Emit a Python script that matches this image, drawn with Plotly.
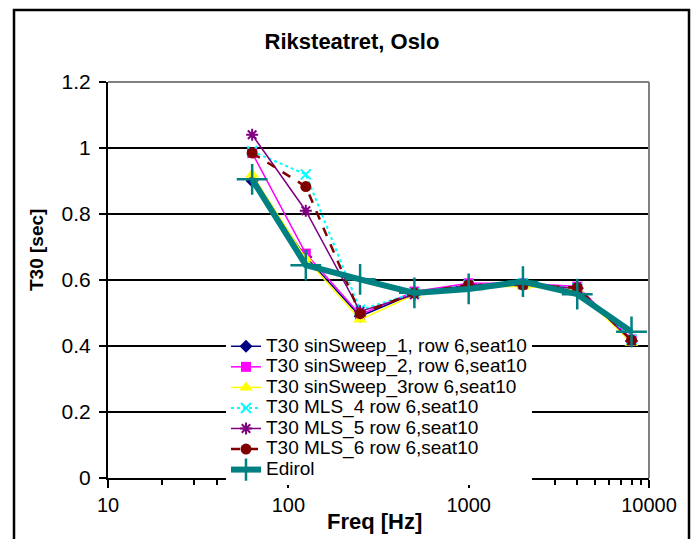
import plotly.graph_objects as go

freqs = [63, 125, 250, 500, 1000, 2000, 4000, 8000]
sweep1 = [0.90, 0.67, 0.49, 0.56, 0.585, 0.585, 0.575, 0.415]
sweep2 = [0.985, 0.68, 0.495, 0.565, 0.59, 0.59, 0.58, 0.42]
sweep3 = [0.92, 0.665, 0.48, 0.555, 0.58, 0.58, 0.57, 0.41]
mls4 = [0.99, 0.92, 0.51, 0.56, 0.585, 0.59, 0.575, 0.42]
mls5 = [1.04, 0.81, 0.505, 0.555, 0.585, 0.585, 0.575, 0.415]
mls6 = [0.985, 0.883, 0.498, 0.561, 0.585, 0.585, 0.577, 0.418]
edirol = [0.905, 0.645, 0.602, 0.561, 0.573, 0.595, 0.557, 0.443]

names = [
    "T30 sinSweep_1, row 6,seat10",
    "T30 sinSweep_2, row 6,seat10",
    "T30 sinSweep_3row 6,seat10",
    "T30 MLS_4 row 6,seat10",
    "T30 MLS_5 row 6,seat10",
    "T30 MLS_6 row 6,seat10",
    "Edirol",
]
x_tickvals = [10, 100, 1000, 10000]
x_ticktext = ["10", "100", "1000", "10000"]
y_tickvals = [0, 0.2, 0.4, 0.6, 0.8, 1.0, 1.2]
y_ticktext = ["0", "0.2", "0.4", "0.6", "0.8", "1", "1.2"]

FONT = "Liberation Sans, Arial, sans-serif"
W, H = 694, 539
L, R, T, B = 108, 45, 82, 61
PW, PH = W - L - R, H - T - B

def px_x(p):
    return (p - L) / PW

def px_y(p):
    return (H - B - p) / PH

def lbl(s):
    return '<span style="font-size:19px">' + s + '</span>'

styles = [
    dict(color="#000080", width=1.5, dash="solid", symbol="diamond", size=10, mline=0),
    dict(color="#FF00FF", width=1.5, dash="solid", symbol="square", size=10, mline=0),
    dict(color="#FFFF00", width=1.5, dash="solid", symbol="triangle-up", size=12, mline=0),
    dict(color="#00FFFF", width=2, dash="dot", symbol="x-thin", size=10, mline=2),
    dict(color="#800080", width=1.5, dash="solid", symbol="asterisk", size=10, mline=2),
    dict(color="#800000", width=2.5, dash="dash", symbol="circle", size=11, mline=0),
    dict(color="#008080", width=6, dash="solid", symbol="cross-thin", size=22, mline=2.5),
]
series = [sweep1, sweep2, sweep3, mls4, mls5, mls6, edirol]

fig = go.Figure()
for name, ys, st in zip(names, series, styles):
    fig.add_trace(go.Scatter(
        x=freqs, y=ys, name=lbl(name), mode="lines+markers",
        line=dict(color=st["color"], width=st["width"], dash=st["dash"]),
        marker=dict(symbol=st["symbol"], size=st["size"], color=st["color"],
                    line=dict(color=st["color"], width=st["mline"])),
    ))

minor_vals = [d * m for d in (10, 100, 1000) for m in range(2, 10)]

fig.update_layout(
    width=W, height=H,
    margin=dict(l=L, r=R, t=T, b=B, pad=0),
    paper_bgcolor="white", plot_bgcolor="white",
    font=dict(family=FONT, color="black", size=20),
    showlegend=True,
    legend=dict(
        x=px_x(226), y=px_y(331), xanchor="left", yanchor="top",
        bgcolor="white", borderwidth=0,
        font=dict(family=FONT, size=13.5, color="black"),
        traceorder="normal",
    ),
    title=dict(text="<b>Riksteatret, Oslo</b>", x=352 / W, xref="container", xanchor="center",
               y=1 - 41 / H, yref="container", yanchor="middle",
               font=dict(family=FONT, size=22, color="black")),
    xaxis=dict(
        type="log", range=[1, 4], tickmode="array", tickvals=x_tickvals, ticktext=x_ticktext,
        ticks="outside", ticklen=8, tickwidth=2, tickcolor="black",
        showline=True, linecolor="black", linewidth=2, showgrid=False, zeroline=False,
        tickfont=dict(family=FONT, size=20, color="black"),
        ticklabelstandoff=0,
        minor=dict(tickmode="array", tickvals=minor_vals, ticks="outside", ticklen=5,
                   tickwidth=2, tickcolor="black", showgrid=False),
    ),
    yaxis=dict(
        range=[0, 1.2], tickmode="array", tickvals=y_tickvals, ticktext=y_ticktext,
        ticks="outside", ticklen=7, tickwidth=2, tickcolor="black",
        showline=True, linecolor="black", linewidth=2,
        showgrid=True, gridcolor="black", gridwidth=2, zeroline=False,
        tickfont=dict(family=FONT, size=21, color="black"),
        ticklabelstandoff=4,
    ),
    annotations=[
        dict(text="<b>Freq [Hz]</b>", xref="paper", yref="paper", x=px_x(374), y=px_y(521),
             xanchor="center", yanchor="middle", showarrow=False,
             font=dict(family=FONT, size=22, color="black")),
        dict(text="<b>T30 [sec]</b>", xref="paper", yref="paper", x=px_x(37), y=px_y(250),
             xanchor="center", yanchor="middle", showarrow=False, textangle=-90,
             font=dict(family=FONT, size=19, color="black")),
    ],
    shapes=[
        dict(type="line", xref="paper", yref="paper", x0=0, x1=1, y0=1, y1=1,
             line=dict(color="#808080", width=2), layer="above"),
        dict(type="line", xref="paper", yref="paper", x0=1, x1=1, y0=0, y1=1,
             line=dict(color="#808080", width=2), layer="above"),
        dict(type="rect", xref="paper", yref="paper", x0=px_x(14), x1=px_x(689),
             y0=px_y(560), y1=px_y(10), line=dict(color="black", width=2.5),
             fillcolor="rgba(0,0,0,0)", layer="above"),
    ],
)

fig.write_html("out.html")
